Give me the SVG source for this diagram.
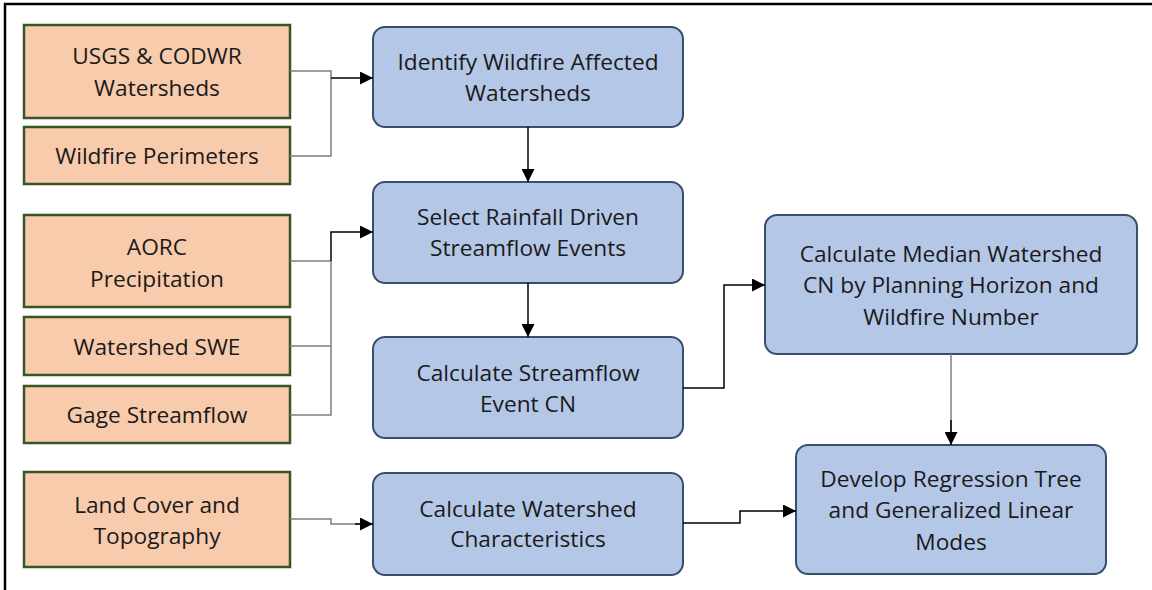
<svg xmlns="http://www.w3.org/2000/svg" width="1152" height="590" viewBox="0 0 1152 590">
<style>
.in{fill:#F8CBAD;stroke:#375623;stroke-width:2.5}
.pr{fill:#B4C7E7;stroke:#34506E;stroke-width:2}
text{font-family:"Open Sans","Noto Sans",sans-serif;font-size:22.7px;fill:#1a1a1a;text-anchor:middle}
.g{fill:none;stroke:#7F7F7F;stroke-width:1.5}
.k{fill:none;stroke:#000;stroke-width:1.5}
</style>
<defs>
<marker id="ah" viewBox="0 0 10 10" refX="10" refY="5" markerWidth="13" markerHeight="13" markerUnits="userSpaceOnUse" orient="auto">
<path d="M0,0 L10,5 L0,10 Z" fill="#000"/>
</marker>
</defs>
<rect width="1152" height="590" fill="#fff"/>
<path d="M5,590 V4 H1152" fill="none" stroke="#000" stroke-width="2.5"/>

<g id="usgs"><rect class="in" x="24" y="25" width="266" height="93"/><text x="157" y="64">USGS &amp; CODWR</text><text x="157" y="96">Watersheds</text></g>
<g id="perim"><rect class="in" x="24" y="127" width="266" height="57"/><text x="157" y="164">Wildfire Perimeters</text></g>
<g id="aorc"><rect class="in" x="24" y="215" width="266" height="92"/><text x="157" y="255">AORC</text><text x="157" y="287">Precipitation</text></g>
<g id="swe"><rect class="in" x="24" y="317" width="266" height="58"/><text x="157" y="355">Watershed SWE</text></g>
<g id="gage"><rect class="in" x="24" y="386" width="266" height="57"/><text x="157" y="423">Gage Streamflow</text></g>
<g id="land"><rect class="in" x="24" y="472" width="266" height="95"/><text x="157" y="513">Land Cover and</text><text x="157" y="544">Topography</text></g>

<g id="identify"><rect class="pr" x="373" y="27" width="310" height="100" rx="12"/><text x="528" y="70">Identify Wildfire Affected</text><text x="528" y="101">Watersheds</text></g>
<g id="select"><rect class="pr" x="373" y="182" width="310" height="101" rx="12"/><text x="528" y="225">Select Rainfall Driven</text><text x="528" y="256">Streamflow Events</text></g>
<g id="eventcn"><rect class="pr" x="373" y="337" width="310" height="101" rx="12"/><text x="528" y="381">Calculate Streamflow</text><text x="528" y="412">Event CN</text></g>
<g id="median"><rect class="pr" x="765" y="215" width="372" height="139" rx="12"/><text x="951" y="262">Calculate Median Watershed</text><text x="951" y="293">CN by Planning Horizon and</text><text x="951" y="325">Wildfire Number</text></g>
<g id="develop"><rect class="pr" x="796" y="445" width="310" height="129" rx="12"/><text x="951" y="487">Develop Regression Tree</text><text x="951" y="518">and Generalized Linear</text><text x="951" y="550">Modes</text></g>
<g id="chars"><rect class="pr" x="373" y="473" width="310" height="102" rx="12"/><text x="528" y="517">Calculate Watershed</text><text x="528" y="547">Characteristics</text></g>

<g id="connectors">
<path class="g" d="M290,71 H331 V156 H290"/>
<path class="k" d="M331,78 H373" marker-end="url(#ah)"/>
<path class="k" d="M528,127 V182" marker-end="url(#ah)"/>
<path class="g" d="M290,261 H331 M290,346 H331 M290,415 H331 V261"/>
<path class="k" d="M331,261 V232 H373" marker-end="url(#ah)"/>
<path class="k" d="M528,283 V337" marker-end="url(#ah)"/>
<path class="k" d="M683,388 H724 V285 H765" marker-end="url(#ah)"/>
<path class="g" d="M951,354 V445"/>
<path class="k" d="M951,420 V445" marker-end="url(#ah)"/>
<path class="k" d="M683,523 H740 V511 H796" marker-end="url(#ah)"/>
<path class="g" d="M290,519 H331 V524 H360"/>
<path class="k" d="M355,524 H373" marker-end="url(#ah)"/>
</g>
</svg>
